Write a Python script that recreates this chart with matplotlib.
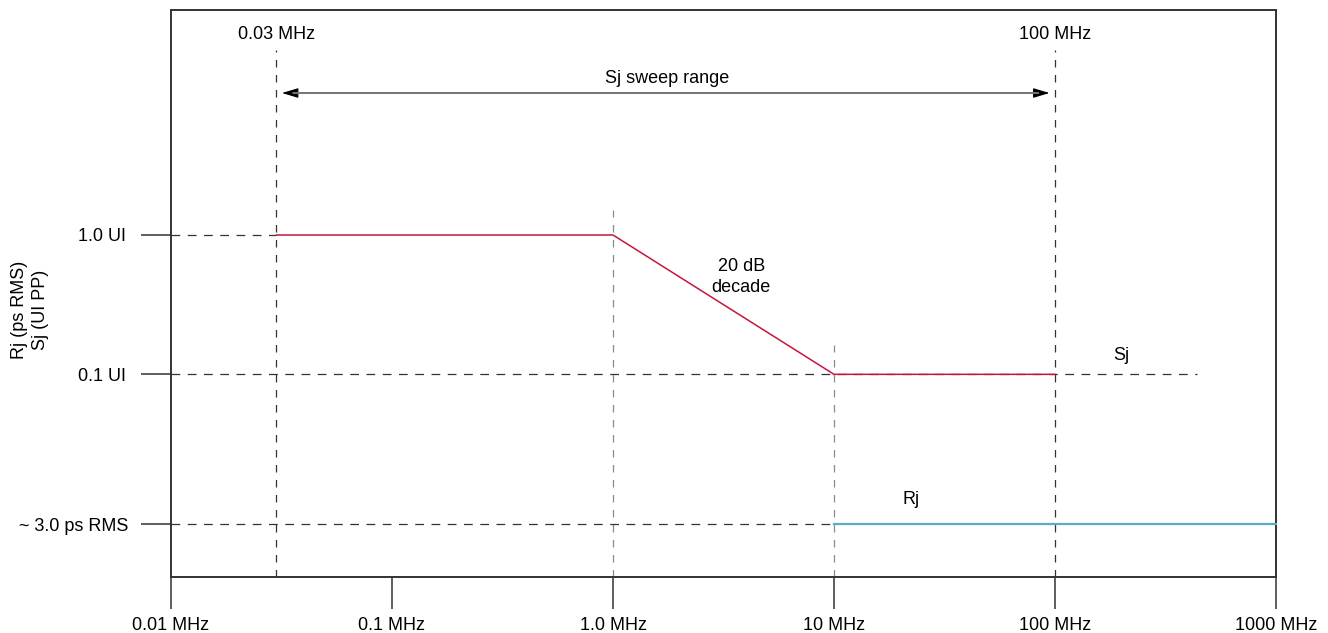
import numpy as np
import matplotlib
matplotlib.use("Agg")
import matplotlib.pyplot as plt
from matplotlib.transforms import blended_transform_factory

plt.rcParams['font.family'] = ['Liberation Sans', 'DejaVu Sans']
plt.rcParams['font.size'] = 13

# ---- data ----
freq_ticks = [0.01, 0.1, 1.0, 10, 100, 1000]
freq_labels = ['0.01 MHz', '0.1 MHz', '1.0 MHz', '10 MHz', '100 MHz', '1000 MHz']

sj_freq = [0.03, 1.0, 10, 100]        # MHz
sj_amp = [1.0, 1.0, 0.1, 0.1]         # UI PP
rj_freq = [10, 1000]                  # MHz
rj_amp = [3.0, 3.0]                   # ps RMS

sj_ticks = [1.0, 0.1]
sj_tick_labels = ['1.0 UI', '0.1 UI']
rj_ticks = [3.0]
rj_tick_labels = ['~ 3.0 ps RMS']

sweep_start, sweep_stop = 0.03, 100
corner_lo, corner_hi = 1.0, 10
sj_guide_end = 440

red = '#c8143c'
blue = '#5aaac8'
dark = '#333333'
grey = '#8a8a8a'

fig = plt.figure(figsize=(13.28, 6.33), dpi=100)
ax = fig.add_axes([171 / 1328, 1 - 577 / 633, (1276 - 171) / 1328, 567 / 633])
ax.set_xscale('log')
ax.set_yscale('log')
ax.set_xlim(0.01, 1000)
ax.set_ylim(0.00351, 41.2)

# second scale for Rj in ps
ax2 = ax.twinx()
ax2.set_ylim(0, 32.3)
ax2.yaxis.set_ticks_position('left')
ax2.set_yticks(rj_ticks)
ax2.set_yticklabels(rj_tick_labels)

for a in (ax, ax2):
    for s in a.spines.values():
        s.set_color(dark)
        s.set_linewidth(1.2)
    a.minorticks_off()

ax.set_xticks(freq_ticks)
ax.set_xticklabels(freq_labels)
ax.set_yticks(sj_ticks)
ax.set_yticklabels(sj_tick_labels)
ax.tick_params(axis='x', direction='out', length=23, width=1.1, color=dark, pad=6)
ax.tick_params(axis='y', direction='out', length=21.5, width=1.1, color=dark, pad=11)
ax2.tick_params(axis='y', direction='out', length=21.5, width=1.1, color=dark, pad=9,
                labelleft=True, labelright=False, left=True, right=False)

dash_h = dict(color=dark, lw=0.9, dashes=(7, 6))
dash_v = dict(lw=0.9, dashes=(6, 6))

# horizontal guides
ax.plot([0.01, sweep_start], [sj_amp[0]] * 2, **dash_h)
ax.plot([0.01, sj_guide_end], [sj_amp[-1]] * 2, **dash_h)
ax2.plot([0.01, rj_freq[0]], rj_amp, **dash_h)

# vertical guides
tr = blended_transform_factory(ax.transData, ax.transAxes)
ax.plot([sweep_start] * 2, [0, 0.929], transform=tr, color=dark, **dash_v)
ax.plot([sweep_stop] * 2, [0, 0.929], transform=tr, color=dark, **dash_v)
ax.plot([corner_lo] * 2, [0, 0.647], transform=tr, color=grey, **dash_v)
ax.plot([corner_hi] * 2, [0, 0.409], transform=tr, color=grey, **dash_v)

# curves
ax.plot(sj_freq, sj_amp, color=red, lw=1.1, zorder=5)
ax2.plot(rj_freq, rj_amp, color=blue, lw=1.6, zorder=5, clip_on=False)

# sweep range arrow: black heads, grey shaft on top
ax.annotate('', xy=(sweep_start, 0.8536), xytext=(sweep_stop, 0.8536), xycoords=tr,
            textcoords=tr,
            arrowprops=dict(arrowstyle='<|-|>,head_length=0.5,head_width=0.15',
                            fc='black', ec='black', lw=0.8, mutation_scale=20,
                            shrinkA=4, shrinkB=4))
ax.annotate('', xy=(sweep_start, 0.8536), xytext=(sweep_stop, 0.8536), xycoords=tr,
            textcoords=tr,
            arrowprops=dict(arrowstyle='-', color='#777777', lw=1.4,
                            shrinkA=12, shrinkB=12))
ax.text(1.75, 0.88, 'Sj sweep range', transform=tr, ha='center', va='center')
ax.text(sweep_start, 0.956, '0.03 MHz', transform=tr, ha='center', va='center')
ax.text(sweep_stop, 0.956, '100 MHz', transform=tr, ha='center', va='center')
ax.text(3.8, 0.529, '20 dB\ndecade', transform=tr, ha='center', va='center',
        linespacing=1.3)
ax.text(200, 0.3915, 'Sj', transform=tr, ha='center', va='center')
ax.text(22.4, 0.136, 'Rj', transform=tr, ha='center', va='center')

fig.text(30 / 1328, 1 - 310 / 633, 'Rj (ps RMS)\nSj (UI PP)', rotation=90,
         ha='center', va='center', linespacing=1.25)

fig.savefig('out.png', dpi=100)
